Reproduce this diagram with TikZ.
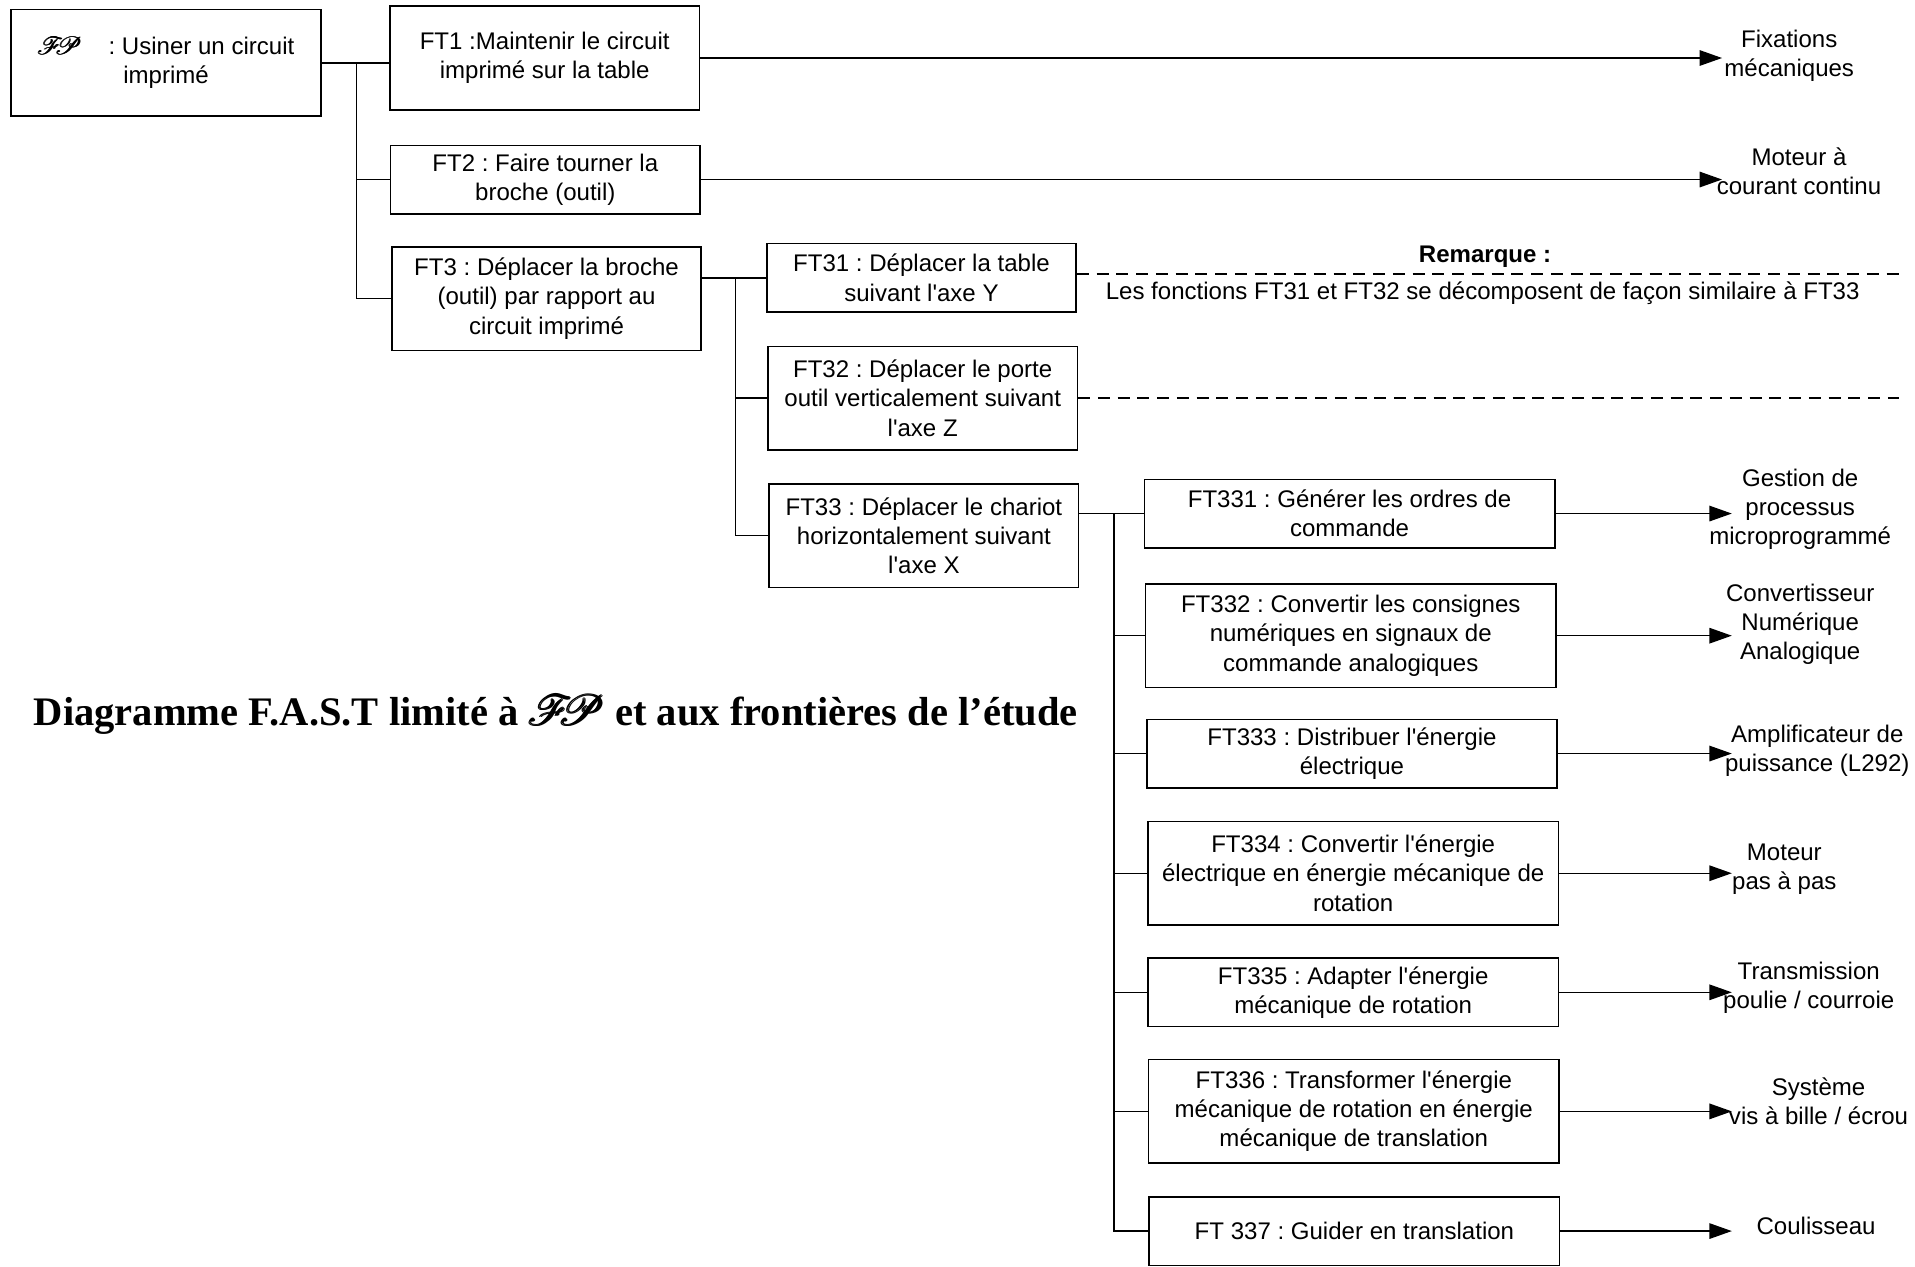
\documentclass[tikz,border=0pt]{standalone}
\usepackage{amsmath}
\usepackage{fontspec}
\usepackage{mathrsfs}
\setmainfont{Liberation Sans}
\newfontfamily\titlefont{Liberation Serif}
\usetikzlibrary{arrows.meta,positioning}
\newcommand{\ap}{\textquotesingle}
\newcommand{\FPsym}{$\pmb{\mathscr{F}\!\!\mathscr{P}}$}
\frenchspacing

\begin{document}
\begin{tikzpicture}[x=0.025cm,y=-0.025cm,
every node/.style={font=\fontsize{14}{17}\selectfont},
box/.style={draw,rectangle,line width=0.9pt,align=center,inner sep=0pt},
lvl/.style={box,minimum width=6.33cm},
lvlb/.style={box,minimum width=8.4cm},
two/.style={minimum height=1.4cm},
three/.style={minimum height=2.12cm},
sol/.style={align=center,inner sep=0pt},
link/.style={line width=0.8pt},
arr/.style={line width=0.8pt,-{Triangle[length=13pt,width=9pt]}},
note/.style={line width=0.8pt,dash pattern=on 7pt off 4.5pt}]
\useasboundingbox (0,0) rectangle (1568,1037);
% fonction principale
\node[box,minimum width=6.35cm,minimum height=2.18cm] (FP) at (136,51.5)
{\FPsym\hspace{1.1em}: Usiner un circuit\\imprimé};
% premier niveau
\node[lvl,three] (FT1) at (446,47.5) {FT1 :Maintenir le circuit\\imprimé sur la table};
\node[lvl,two] (FT2) at (446.5,147) {FT2 : Faire tourner la\\broche (outil)};
\node[lvl,three] (FT3) at (447.5,244.5) {FT3 : Déplacer la broche\\(outil) par rapport au\\circuit imprimé};
% deuxieme niveau
\node[lvl,two] (FT31) at (754.5,227.5) {FT31 : Déplacer la table\\suivant l\ap axe Y};
\node[lvl,three] (FT32) at (755.5,326) {FT32 : Déplacer le porte\\outil verticalement suivant\\l\ap axe Z};
\node[lvl,three] (FT33) at (756.5,438.5) {FT33 : Déplacer le chariot\\horizontalement suivant\\l\ap axe X};
% troisieme niveau
\node[lvlb,two] (FT331) at (1105,420.5) {FT331 : Générer les ordres de\\commande};
\node[lvlb,three] (FT332) at (1106,520.5) {FT332 : Convertir les consignes\\numériques en signaux de\\commande analogiques};
\node[lvlb,two] (FT333) at (1107,617) {FT333 : Distribuer l\ap énergie\\électrique};
\node[lvlb,three] (FT334) at (1108,715) {FT334 : Convertir l\ap énergie\\électrique en énergie mécanique de\\rotation};
\node[lvlb,two] (FT335) at (1108,812.5) {FT335 : Adapter l\ap énergie\\mécanique de rotation};
\node[lvlb,three] (FT336) at (1108.5,910) {FT336 : Transformer l\ap énergie\\mécanique de rotation en énergie\\mécanique de translation};
\node[lvlb,two] (FT337) at (1109,1008) {FT 337 : Guider en translation};
% solutions
\node[sol] (S1) at (1465,46) {Fixations\\mécaniques};
\node[sol] (S2) at (1473,140) {Moteur à\\courant continu};
\node[sol] (S331) at (1474,417) {Gestion de\\processus\\microprogrammé};
\node[sol] (S332) at (1474,511) {Convertisseur\\Numérique\\Analogique};
\node[sol] (S333) at (1488,615) {Amplificateur de\\puissance (L292)};
\node[sol] (S334) at (1461,712) {Moteur\\pas à pas};
\node[sol] (S335) at (1481,809) {Transmission\\poulie / courroie};
\node[sol] (S336) at (1489,902) {Système\\vis à bille / écrou};
\node[sol] (S337) at (1487,1004) {Coulisseau};
\node[sol] (R1) at (1216,210) {\textbf{Remarque :}};
\node[sol] (R2) at (1214,240) {Les fonctions FT31 et FT32 se décomposent de façon similaire à FT33};
\node[sol,font=\titlefont\bfseries\fontsize{23.6}{28}\selectfont] (T) at (455,585)
{Diagramme F.A.S.T limité à \FPsym{} et aux frontières de l’étude};
% bouts des fleches
\coordinate (tipA) at (1410,0);
\coordinate (tipB) at (1418,0);
\coordinate (dashend) at (1555,0);
\coordinate (J1) at (292,51.5);
\coordinate (J2) at (602,227.5);
\coordinate (J3) at (912,420.5);
% liaisons
\draw[link] (FP.east) -- (FP.east -| FT1.west);
\draw[link] (J1) |- (FT2.west);
\draw[link] (J1) |- (FT3.west);
\draw[link] (FT3.east |- FT31.west) -- (FT31.west);
\draw[link] (J2) |- (FT32.west);
\draw[link] (J2) |- (FT33.west);
\draw[link] (FT33.east |- FT331.west) -- (FT331.west);
\foreach \n in {332,333,334,335,336,337}
\draw[link] (J3) |- (FT\n.west);
\draw[arr] (FT1.east) -- (FT1.east -| tipA);
\draw[arr] (FT2.east) -- (FT2.east -| tipA);
\foreach \n in {331,332,333,334,335,336,337}
\draw[arr] (FT\n.east) -- (FT\n.east -| tipB);
\draw[note] ([yshift=0.08cm]FT31.east) -- ([yshift=0.08cm]FT31.east -| dashend);
\draw[note] (FT32.east) -- (FT32.east -| dashend);
\end{tikzpicture}
\end{document}
